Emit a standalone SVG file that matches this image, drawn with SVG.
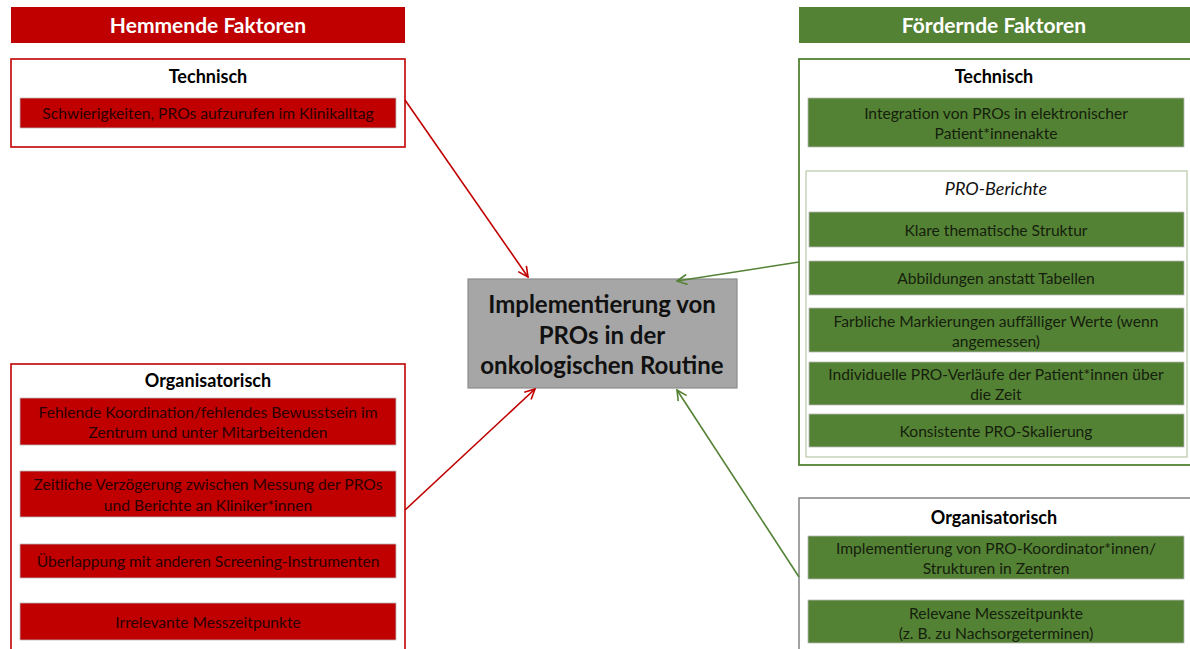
<svg xmlns="http://www.w3.org/2000/svg" width="1190" height="649" viewBox="0 0 1190 649">
  <style>
    text { font-family: Lato, "Open Sans", "Liberation Sans", sans-serif; text-anchor: middle; }
    .hdr { font-size: 21px; font-weight: bold; fill: #ffffff; }
    .cat { font-size: 18px; font-weight: bold; fill: #000000; }
    .item { font-size: 15.6px; }
    .r-item { fill: #2a0000; }
    .g-item { fill: #14200c; }
    .red-fill { fill: #c00000; }
    .green-fill { fill: #548235; }
    .red-box { fill: #ffffff; stroke: #c00000; stroke-width: 1.6; }
    .green-box { fill: #ffffff; stroke: #548235; stroke-width: 1.8; }
    .sub-box { fill: #ffffff; stroke: #b7c9a8; stroke-width: 1.2; }
    .gray-box { fill: #ffffff; stroke: #8a8a8a; stroke-width: 1.6; }
    .r-bar { fill: #c00000; stroke: #b8b8b8; stroke-width: 0.8; }
    .g-bar { fill: #548235; stroke: #b8b8b8; stroke-width: 0.8; }
    .center { font-size: 24px; font-weight: bold; fill: #111111; }
    .r-link { stroke: #c00000; stroke-width: 1.6; fill: none; }
    .g-link { stroke: #548235; stroke-width: 1.6; fill: none; }
  </style>
  <defs>
    <marker id="arrow-red" viewBox="0 0 12 12" refX="11" refY="6" markerWidth="12" markerHeight="12" markerUnits="userSpaceOnUse" orient="auto">
      <path d="M1,1 L11,6 L1,11" fill="none" stroke="#c00000" stroke-width="1.6"/>
    </marker>
    <marker id="arrow-green" viewBox="0 0 12 12" refX="11" refY="6" markerWidth="12" markerHeight="12" markerUnits="userSpaceOnUse" orient="auto">
      <path d="M1,1 L11,6 L1,11" fill="none" stroke="#548235" stroke-width="1.6"/>
    </marker>
  </defs>

  <!-- Hindering factors -->
  <g id="hemmende-header">
    <rect class="red-fill" x="11" y="7" width="394" height="36"/>
    <text class="hdr" x="208" y="33">Hemmende Faktoren</text>
  </g>

  <g id="hemmende-technisch">
    <rect class="red-box" x="11" y="59" width="394" height="88"/>
    <text class="cat" x="208" y="83">Technisch</text>
    <rect class="r-bar" x="20" y="98" width="376" height="30"/>
    <text class="item r-item" x="208" y="119">Schwierigkeiten, PROs aufzurufen im Klinikalltag</text>
  </g>

  <g id="hemmende-organisatorisch">
    <rect class="red-box" x="11" y="364" width="394" height="295"/>
    <text class="cat" x="208" y="387">Organisatorisch</text>
    <rect class="r-bar" x="20" y="398" width="376" height="47"/>
    <text class="item r-item" x="208" y="418">Fehlende Koordination/fehlendes Bewusstsein im</text>
    <text class="item r-item" x="208" y="438">Zentrum und unter Mitarbeitenden</text>
    <rect class="r-bar" x="20" y="471" width="376" height="46"/>
    <text class="item r-item" x="208" y="490">Zeitliche Verzögerung zwischen Messung der PROs</text>
    <text class="item r-item" x="208" y="511">und Berichte an Kliniker*innen</text>
    <rect class="r-bar" x="20" y="544" width="376" height="34"/>
    <text class="item r-item" x="208" y="567">Überlappung mit anderen Screening-Instrumenten</text>
    <rect class="r-bar" x="20" y="603" width="376" height="37"/>
    <text class="item r-item" x="208" y="628">Irrelevante Messzeitpunkte</text>
  </g>

  <!-- Central topic -->
  <g id="implementierung">
    <rect x="468" y="279" width="269" height="109" fill="#a6a6a6" stroke="#8c8c8c" stroke-width="1.2"/>
    <text class="center" x="602" y="313">Implementierung von</text>
    <text class="center" x="602" y="344">PROs in der</text>
    <text class="center" x="602" y="374">onkologischen Routine</text>
  </g>

  <!-- Facilitating factors -->
  <g id="foerdernde-header">
    <rect class="green-fill" x="799" y="7" width="391" height="36"/>
    <text class="hdr" x="994" y="33">Fördernde Faktoren</text>
  </g>

  <g id="foerdernde-technisch">
    <rect class="green-box" x="799" y="59" width="393" height="406"/>
    <text class="cat" x="994" y="83">Technisch</text>
    <rect class="g-bar" x="808" y="98" width="376" height="49"/>
    <text class="item g-item" x="996" y="119">Integration von PROs in elektronischer</text>
    <text class="item g-item" x="996" y="139">Patient*innenakte</text>
  </g>

  <g id="pro-berichte">
    <rect class="sub-box" x="806" y="171" width="381" height="286"/>
    <text x="996" y="195" style="font-size:18px;font-style:italic;fill:#111">PRO-Berichte</text>
    <rect class="g-bar" x="809" y="212" width="375" height="35"/>
    <text class="item g-item" x="996" y="236">Klare thematische Struktur</text>
    <rect class="g-bar" x="809" y="261" width="375" height="34"/>
    <text class="item g-item" x="996" y="284">Abbildungen anstatt Tabellen</text>
    <rect class="g-bar" x="809" y="308" width="375" height="44"/>
    <text class="item g-item" x="996" y="327">Farbliche Markierungen auffälliger Werte (wenn</text>
    <text class="item g-item" x="996" y="347">angemessen)</text>
    <rect class="g-bar" x="809" y="362" width="375" height="43"/>
    <text class="item g-item" x="996" y="380">Individuelle PRO-Verläufe der Patient*innen über</text>
    <text class="item g-item" x="996" y="400">die Zeit</text>
    <rect class="g-bar" x="809" y="414" width="375" height="33"/>
    <text class="item g-item" x="996" y="437">Konsistente PRO-Skalierung</text>
  </g>

  <g id="foerdernde-organisatorisch">
    <rect class="gray-box" x="799" y="498" width="393" height="161"/>
    <text class="cat" x="994" y="524">Organisatorisch</text>
    <rect class="g-bar" x="808" y="536" width="376" height="43"/>
    <text class="item g-item" x="996" y="554">Implementierung von PRO-Koordinator*innen/</text>
    <text class="item g-item" x="996" y="574">Strukturen in Zentren</text>
    <rect class="g-bar" x="808" y="600" width="376" height="43"/>
    <text class="item g-item" x="996" y="619">Relevane Messzeitpunkte</text>
    <text class="item g-item" x="996" y="639">(z. B. zu Nachsorgeterminen)</text>
  </g>

  <!-- Connectors -->
  <g id="connectors">
    <line class="r-link" x1="405" y1="100" x2="528" y2="277" marker-end="url(#arrow-red)"/>
    <line class="r-link" x1="405" y1="510" x2="535" y2="389" marker-end="url(#arrow-red)"/>
    <line class="g-link" x1="799" y1="262" x2="677" y2="281" marker-end="url(#arrow-green)"/>
    <line class="g-link" x1="799" y1="577" x2="677" y2="390" marker-end="url(#arrow-green)"/>
  </g>
</svg>
